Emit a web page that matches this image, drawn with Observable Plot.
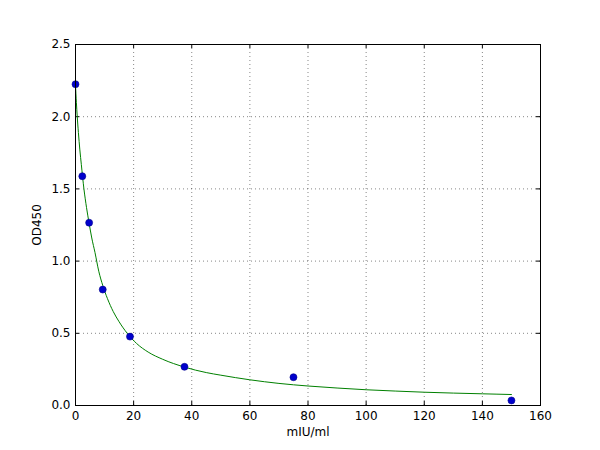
<!DOCTYPE html>
<html>
<head>
<meta charset="utf-8">
<script src="https://cdn.jsdelivr.net/npm/d3@7"></script>
<script src="https://cdn.jsdelivr.net/npm/@observablehq/plot@0.6"></script>
<style>
  html, body { margin: 0; padding: 0; background: #fff; }
  #chart { width: 600px; height: 450px; }
</style>
</head>
<body>
<div id="chart"></div>
<script>
// Standard points
const concX = [0, 2.34, 4.69, 9.375, 18.75, 37.5, 75, 150];
const odY   = [2.225, 1.588, 1.266, 0.803, 0.477, 0.268, 0.196, 0.035];

// Fitted curve
const curveX = [0, 0.3, 0.6, 1.0, 1.5, 2.0, 2.9, 3.8, 4.7, 5.6, 6.7, 8.0, 9.4, 11, 13, 15, 17.8, 21, 25, 30, 37.5, 45, 50, 60, 70, 80, 90, 100, 110, 120, 130, 140, 150];
const curveY = [2.22, 2.10, 2.00, 1.89, 1.77, 1.67, 1.50, 1.37, 1.26, 1.16, 1.06, 0.93, 0.83, 0.74, 0.65, 0.58, 0.50, 0.43, 0.37, 0.32, 0.266, 0.228, 0.21, 0.178, 0.153, 0.135, 0.121, 0.109, 0.100, 0.092, 0.086, 0.081, 0.076];

const xTicks = [0, 20, 40, 60, 80, 100, 120, 140, 160];
const yTicks = [0.0, 0.5, 1.0, 1.5, 2.0, 2.5];

const points = concX.map((x, i) => ({x, y: odY[i]}));
const curve = curveX.map((x, i) => ({x, y: curveY[i]}));

const W = 600, H = 450;
const mL = 75, mR = 60, mT = 44, mB = 45;
const innerW = W - mL - mR, innerH = H - mT - mB;
const tick = 4;

const chart = Plot.plot({
  width: W,
  height: H,
  marginLeft: mL,
  marginRight: mR,
  marginTop: mT,
  marginBottom: mB,
  style: { fontFamily: "DejaVu Sans", fontSize: "12px", color: "#000", background: "#fff" },
  x: { domain: [0, 160], label: null },
  y: { domain: [0, 2.5], label: null },
  marks: [
    Plot.gridX(xTicks.slice(1, -1), { stroke: "#000", strokeOpacity: 0.6, strokeDasharray: "1,3", strokeWidth: 0.8 }),
    Plot.gridY(yTicks.slice(1, -1), { stroke: "#000", strokeOpacity: 0.6, strokeDasharray: "1,3", strokeWidth: 0.8 }),
    // inward ticks, bottom & top
    Plot.tickX(xTicks, { x: d => d, insetTop: innerH - tick, stroke: "#000" }),
    Plot.tickX(xTicks, { x: d => d, insetBottom: innerH - tick, stroke: "#000" }),
    // inward ticks, left & right
    Plot.tickY(yTicks, { y: d => d, insetRight: innerW - tick, stroke: "#000" }),
    Plot.tickY(yTicks, { y: d => d, insetLeft: innerW - tick, stroke: "#000" }),
    Plot.axisX(xTicks, { tickSize: 0, tickPadding: 6, tickFormat: d3.format("d"), label: null, fontSize: 12 }),
    Plot.axisY(yTicks, { tickSize: 0, tickPadding: 5, tickFormat: d3.format(".1f"), label: null, fontSize: 12 }),
    Plot.line(curve, { x: "x", y: "y", stroke: "#008000", strokeWidth: 1, curve: "monotone-x" }),
    Plot.dot(points, { x: "x", y: "y", r: 3.5, fill: "#0000cc", stroke: "#00008b", strokeWidth: 0.6 }),
    Plot.frame({ stroke: "#000", strokeWidth: 1 }),
    Plot.text(["mIU/ml"], { frameAnchor: "bottom", dy: 30, fontSize: 12, textAnchor: "middle" }),
    Plot.text(["OD450"], { frameAnchor: "left", dx: -38, rotate: -90, fontSize: 12, textAnchor: "middle" })
  ]
});
document.getElementById("chart").appendChild(chart);
</script>
</body>
</html>
